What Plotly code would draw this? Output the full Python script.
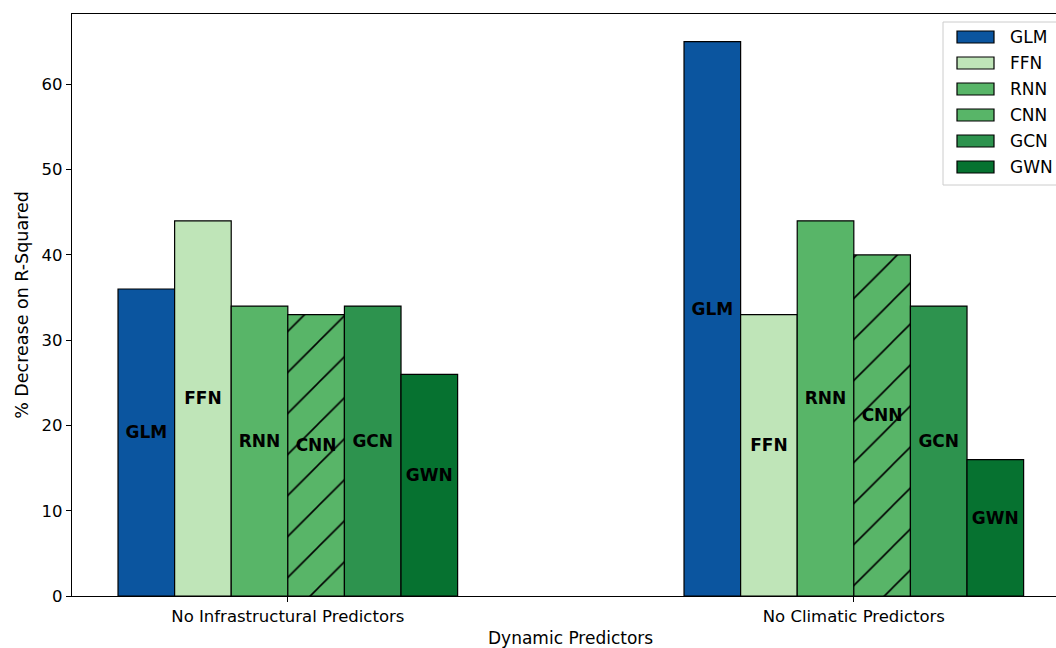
import plotly.graph_objects as go

categories = ["No Infrastructural Predictors", "No Climatic Predictors"]
models = ["GLM", "FFN", "RNN", "CNN", "GCN", "GWN"]
glm = [36, 65]
ffn = [44, 33]
rnn = [34, 44]
cnn = [33, 40]
gcn = [34, 34]
gwn = [26, 16]
series = [glm, ffn, rnn, cnn, gcn, gwn]
colors = ["#0b559f", "#bfe5b8", "#58b568", "#58b568", "#2d934e", "#067230"]
hatches = ["", "", "", "/", "", ""]

FONT = "DejaVu Sans"
# plot area in screenshot pixels: x 72..1056, y 14..596
PL, PR, PT, PB = 72, 1056, 14, 596


def px(xs):
    return (xs - PL) / (PR - PL)


def py(ys):
    return (PB - ys) / (PB - PT)


bar_w = 0.1
fig = go.Figure()
for i, (name, vals, col, hat) in enumerate(zip(models, series, colors, hatches)):
    off = (i - (len(models) - 1) / 2) * bar_w
    xs = [k + off for k in range(len(categories))]
    pattern = (dict(shape=hat, fgcolor="black", fgopacity=1, size=29, solidity=0.055)
               if hat else None)
    fig.add_trace(go.Bar(
        x=xs, y=vals, width=bar_w, name=name, showlegend=False,
        marker=dict(color=col, line=dict(color="black", width=1.2), pattern=pattern),
    ))
    fig.add_trace(go.Scatter(
        x=xs, y=[v / 2 for v in vals], mode="text", text=[name] * len(vals),
        textposition="top center", showlegend=False, hoverinfo="skip",
        textfont=dict(family=FONT, size=17, color="black", weight="bold"),
    ))

# legend drawn as shapes + labels (wide matplotlib-style patches)
shapes = [dict(type="rect", xref="paper", yref="paper",
               x0=px(943), x1=px(1070), y0=py(185), y1=py(22),
               line=dict(color="#cccccc", width=1), fillcolor="white", layer="above")]
annotations = []
for j, (name, col) in enumerate(zip(models, colors)):
    cy = 37 + 26 * j
    shapes.append(dict(type="rect", xref="paper", yref="paper",
                       x0=px(957), x1=px(994), y0=py(cy + 6), y1=py(cy - 6),
                       line=dict(color="black", width=1.2), fillcolor=col, layer="above"))
    annotations.append(dict(text=name, xref="paper", yref="paper",
                            x=px(1008), y=py(cy), xanchor="left", yanchor="middle",
                            showarrow=False, font=dict(size=17)))
annotations.append(dict(text="Dynamic Predictors", xref="paper", yref="paper",
                        x=px(570), y=0, yshift=-42, showarrow=False, yanchor="middle",
                        font=dict(size=17)))

fig.update_layout(
    width=1056, height=648,
    margin=dict(l=PL, r=0, t=PT, b=648 - PB, autoexpand=False),
    plot_bgcolor="white", paper_bgcolor="white",
    font=dict(family=FONT, size=17, color="black"),
    showlegend=False,
    barmode="overlay",
    shapes=shapes, annotations=annotations,
)
fig.update_xaxes(
    range=[-0.3813, -0.3813 + 984 / 566],
    tickmode="array", tickvals=list(range(len(categories))), ticktext=categories,
    showline=True, linecolor="black", linewidth=1.2, mirror=True,
    ticks="outside", ticklen=5, tickcolor="black", showgrid=False, zeroline=False,
    tickfont=dict(size=16.5),
)
fig.update_yaxes(
    range=[0, 68.25], tickvals=[0, 10, 20, 30, 40, 50, 60],
    showline=True, linecolor="black", linewidth=1.2,
    ticks="outside", ticklen=5, tickcolor="black", showgrid=False, zeroline=False,
    title=dict(text="% Decrease on R-Squared", font=dict(size=17.5), standoff=8),
    tickfont=dict(size=16.5),
)
fig.write_html("out.html", config={"displayModeBar": False},
               post_script="document.body.style.margin='0';document.body.style.overflow='hidden';")
